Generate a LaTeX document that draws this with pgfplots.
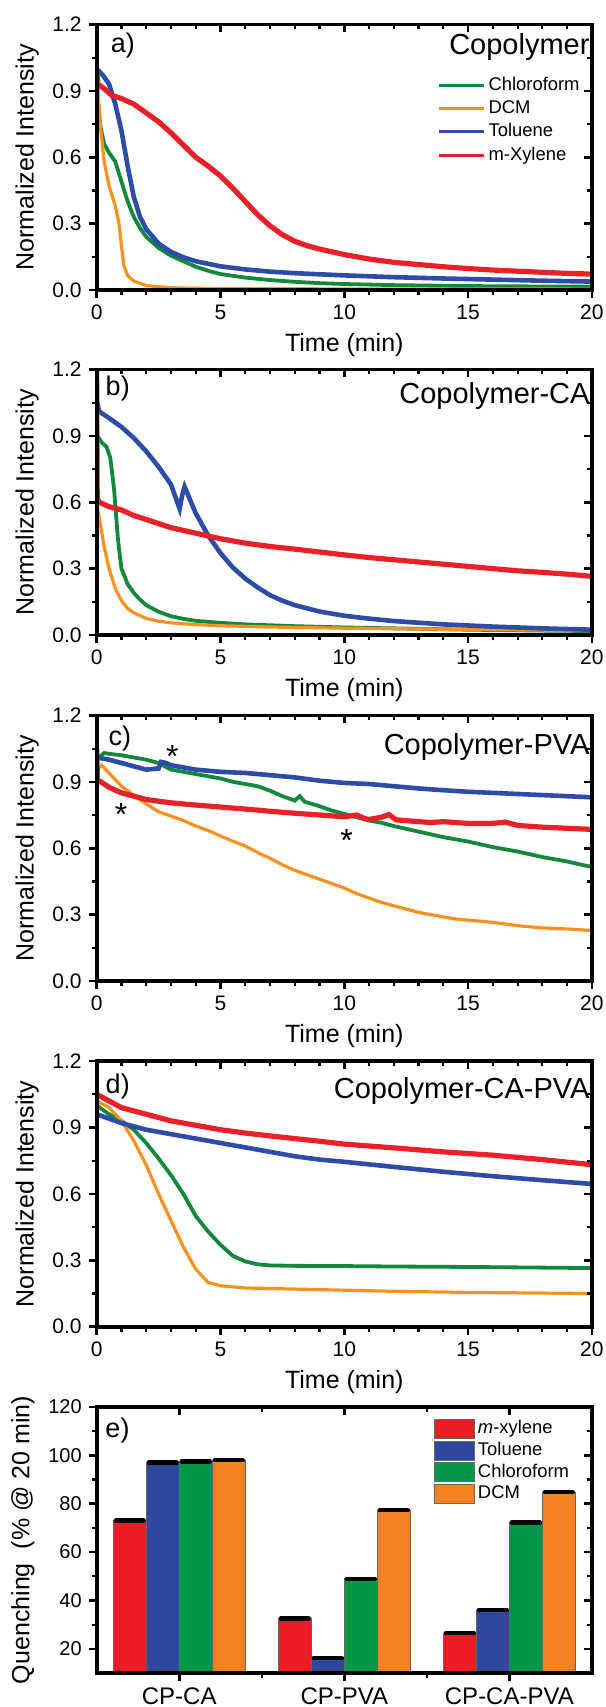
\documentclass[border=0pt]{standalone}
\usepackage{fontspec}
\setmainfont{Liberation Sans}
\usepackage{pgfplots}
\pgfplotsset{compat=1.18}
\definecolor{cg}{RGB}{18,136,60}
\definecolor{co}{RGB}{247,146,32}
\definecolor{cb}{RGB}{44,76,168}
\definecolor{cr}{RGB}{232,32,40}
\definecolor{bg}{RGB}{0,152,72}
\definecolor{bo}{RGB}{245,130,32}
\definecolor{bb}{RGB}{46,72,158}
\definecolor{br}{RGB}{237,28,36}
\tikzset{
  ttl/.style={anchor=east, inner sep=0pt, font=\fontsize{14.5}{17}\selectfont},
  plab/.style={inner sep=0pt, font=\fontsize{13.5}{16}\selectfont},
}
\pgfplotsset{
  common/.style={scale only axis, axis line style={line width=1.8pt},
    major tick length=4pt, minor tick length=2.5pt,
    every major tick/.append style={line width=1.3pt, black},
    every minor tick/.append style={line width=1.1pt, black},
    /pgf/number format/assume math mode=true},
  tframe/.style={common, width=247.6pt, height=132.8pt, xmin=0, xmax=20, ymin=0, ymax=1.2,
    xtick={0,5,10,15,20}, ytick={0,0.3,0.6,0.9,1.2}, minor x tick num=4, minor y tick num=1},
  tmain/.style={tframe, tick pos=left, tick align=outside,
    xlabel={Time (min)}, ylabel={Normalized Intensity},
    tick label style={font=\fontsize{10.5}{12}\selectfont},
    label style={font=\fontsize{12.5}{15}\selectfont},
    yticklabel style={/pgf/number format/.cd, fixed, fixed zerofill, precision=1}},
  tover/.style={tframe, tick pos=right, tick align=inside, xticklabels={}, yticklabels={}},
  lr/.style={cr, line width=2.6pt},
  lb/.style={cb, line width=2.3pt},
  lg/.style={cg, line width=1.9pt},
  lo/.style={co, line width=1.6pt},
  barleg/.style={legend image code/.code={\draw[##1, draw=black!60, line width=0.4pt] (0pt,-4.75pt) rectangle (20pt,4.75pt);}},
  eframe/.style={common, width=247.6pt, height=133pt, at={(48.35pt,-836.5pt)}, anchor=south west,
    xmin=-0.5, xmax=2.5, ymin=10, ymax=120, xtick={0,1,2}, minor xtick={0.5,1.5},
    ytick={20,40,60,80,100,120}, minor y tick num=1},
}
\begin{document}
\begin{tikzpicture}
\useasboundingbox (0,0) rectangle (302.5pt,-853.5pt);

% ---------------- (a)
\begin{axis}[tmain, at={(48.35pt,-145pt)}, anchor=south west,
  legend style={at={(rel axis cs:0.675,0.83)}, anchor=north west, draw=none, fill=none,
    font=\fontsize{9.2}{11}\selectfont, row sep=0.6pt, nodes={inner sep=1.5pt}},
  legend cell align=left,
  legend image code/.code={\draw[#1, line width=1.6pt] (0pt,0pt) -- (22.5pt,0pt);}]
\addplot[lg] coordinates {(0,0.98) (0.05,0.85) (0.15,0.74) (0.3,0.66) (0.5,0.62) (0.75,0.58) (1,0.49) (1.25,0.4) (1.5,0.33) (1.75,0.28) (2,0.24) (2.5,0.19) (3,0.155) (3.5,0.13) (4,0.105) (4.5,0.087) (5,0.072) (6,0.056) (7,0.045) (8,0.037) (9,0.031) (10,0.027) (12,0.022) (14,0.019) (16,0.017) (18,0.016) (20,0.015)};
\addlegendentry{Chloroform}
\addplot[lo] coordinates {(0,1.02) (0.05,0.9) (0.15,0.74) (0.3,0.58) (0.5,0.47) (0.75,0.38) (0.9,0.3) (1.0,0.2) (1.1,0.11) (1.25,0.065) (1.5,0.04) (2,0.02) (3,0.01) (5,0.006) (10,0.005) (20,0.004)};
\addlegendentry{DCM}
\addplot[lb] coordinates {(0,1.0) (0.25,0.97) (0.5,0.93) (0.75,0.84) (1.0,0.72) (1.25,0.56) (1.5,0.42) (1.75,0.33) (2,0.275) (2.5,0.21) (3,0.172) (3.5,0.148) (4,0.13) (5,0.107) (6,0.093) (7,0.083) (8,0.076) (10,0.066) (12,0.058) (14,0.052) (16,0.047) (18,0.042) (20,0.038)};
\addlegendentry{Toluene}
\addplot[lr] coordinates {(0,1.0) (0.05,0.93) (0.3,0.91) (0.6,0.88) (1,0.865) (1.5,0.84) (2,0.8) (2.5,0.76) (3,0.71) (3.5,0.655) (4,0.6) (4.5,0.56) (5,0.515) (5.5,0.46) (6,0.4) (6.5,0.34) (7,0.29) (7.5,0.25) (8,0.22) (8.5,0.2) (9,0.185) (10,0.16) (11,0.14) (12,0.125) (13,0.115) (14,0.105) (15,0.097) (16,0.09) (17,0.085) (18,0.08) (19,0.075) (20,0.072)};
\addlegendentry{m-Xylene}
\node[plab] at (rel axis cs:0.053,0.92) {a)};
\node[ttl] at (rel axis cs:0.996,0.915) {Copolymer};
\end{axis}
\begin{axis}[tover, at={(48.35pt,-145pt)}, anchor=south west]
\end{axis}

% ---------------- (b)
\begin{axis}[tmain, at={(48.35pt,-317.5pt)}, anchor=south west]
\addplot[lg] coordinates {(0,1.0) (0.03,0.9) (0.2,0.87) (0.4,0.85) (0.55,0.8) (0.7,0.66) (0.86,0.43) (1.0,0.3) (1.25,0.23) (1.5,0.19) (1.75,0.16) (2,0.135) (2.5,0.105) (3,0.085) (3.5,0.073) (4,0.064) (5,0.055) (6,0.048) (8,0.04) (10,0.034) (12,0.03) (15,0.024) (18,0.02) (20,0.018)};
\addplot[lo] coordinates {(0,0.65) (0.05,0.56) (0.15,0.5) (0.3,0.4) (0.5,0.3) (0.75,0.21) (1,0.155) (1.25,0.12) (1.5,0.1) (2,0.075) (2.5,0.062) (3,0.055) (4,0.047) (5,0.042) (7,0.036) (10,0.031) (15,0.025) (20,0.02)};
\addplot[lb] coordinates {(0,1.25) (0.02,1.05) (0.1,1.01) (0.5,0.98) (1,0.94) (1.5,0.89) (2,0.83) (2.5,0.76) (3,0.68) (3.35,0.57) (3.45,0.63) (3.55,0.67) (3.7,0.63) (4,0.55) (4.5,0.45) (5,0.37) (5.5,0.305) (6,0.255) (6.5,0.215) (7,0.18) (7.5,0.155) (8,0.135) (9,0.106) (10,0.087) (11,0.074) (12,0.063) (14,0.048) (16,0.038) (18,0.03) (20,0.024)};
\addplot[lr] coordinates {(0,1.02) (0.02,0.62) (0.1,0.6) (0.5,0.58) (1,0.565) (1.5,0.54) (2,0.522) (3,0.485) (4,0.46) (5,0.435) (6,0.415) (7,0.4) (8,0.388) (9,0.375) (10,0.362) (11,0.35) (12,0.34) (13,0.33) (14,0.32) (15,0.31) (16,0.3) (17,0.29) (18,0.283) (19,0.275) (20,0.265)};
\node[plab] at (rel axis cs:0.0425,0.927) {b)};
\node[ttl] at (rel axis cs:0.996,0.90) {Copolymer-CA};
\end{axis}
\begin{axis}[tover, at={(48.35pt,-317.5pt)}, anchor=south west]
\end{axis}

% ---------------- (c)
\begin{axis}[tmain, at={(48.35pt,-490.5pt)}, anchor=south west]
\addplot[lo] coordinates {(0,0.95) (0.2,0.975) (0.5,0.94) (1,0.88) (1.5,0.84) (2,0.80) (2.5,0.765) (3,0.745) (3.5,0.725) (4,0.70) (4.5,0.68) (5,0.655) (5.5,0.632) (6,0.61) (6.5,0.58) (7,0.555) (7.5,0.525) (8,0.5) (8.5,0.48) (9,0.46) (9.5,0.44) (10,0.42) (10.5,0.395) (11,0.375) (11.5,0.355) (12,0.34) (12.5,0.325) (13,0.31) (13.5,0.3) (14,0.29) (14.5,0.28) (15,0.275) (16,0.265) (17,0.25) (18,0.24) (19,0.235) (20,0.228)};
\addplot[lg] coordinates {(0,1.0) (0.3,1.03) (0.6,1.025) (1,1.02) (1.5,1.01) (2,1.0) (2.5,0.985) (3,0.955) (3.5,0.945) (4,0.935) (4.5,0.925) (5,0.915) (5.5,0.9) (6,0.89) (6.5,0.88) (7,0.86) (7.5,0.835) (8,0.815) (8.2,0.835) (8.4,0.81) (9,0.79) (9.5,0.77) (10,0.755) (10.5,0.74) (11,0.725) (11.5,0.715) (12,0.7) (13,0.675) (14,0.65) (15,0.63) (16,0.605) (17,0.585) (18,0.56) (19,0.54) (20,0.515)};
\addplot[lb] coordinates {(0,1.01) (0.5,1.0) (1,0.985) (1.5,0.97) (2,0.955) (2.5,0.96) (2.6,0.99) (2.8,0.985) (3,0.975) (3.5,0.965) (4,0.955) (5,0.945) (6,0.94) (7,0.93) (8,0.92) (9,0.905) (10,0.895) (11,0.89) (12,0.88) (13,0.87) (14,0.862) (15,0.855) (16,0.85) (17,0.845) (18,0.84) (19,0.835) (20,0.83)};
\addplot[lr] coordinates {(0,1.05) (0.03,0.91) (0.3,0.89) (0.5,0.875) (1,0.85) (1.5,0.835) (2,0.82) (3,0.805) (4,0.795) (5,0.786) (6,0.777) (7,0.767) (8,0.758) (9,0.75) (9.5,0.746) (10,0.742) (10.5,0.75) (10.8,0.735) (11,0.73) (11.5,0.74) (11.8,0.752) (12.1,0.728) (13,0.72) (13.5,0.716) (14,0.72) (15,0.712) (16,0.712) (16.5,0.718) (17,0.703) (18,0.695) (19,0.69) (20,0.685)};
\node[plab] at (rel axis cs:0.0467,0.913) {c)};
\node[ttl] at (rel axis cs:0.996,0.881) {Copolymer-PVA};
\node[font=\fontsize{16}{18}\selectfont, yshift=-3pt] at (axis cs:3.06,1.04) {*};
\node[font=\fontsize{16}{18}\selectfont, yshift=-3pt] at (axis cs:0.99,0.78) {*};
\node[font=\fontsize{16}{18}\selectfont, yshift=-3pt] at (axis cs:10.09,0.66) {*};
\end{axis}
\begin{axis}[tover, at={(48.35pt,-490.5pt)}, anchor=south west]
\end{axis}

% ---------------- (d)
\begin{axis}[tmain, at={(48.35pt,-663.35pt)}, anchor=south west]
\addplot[lg] coordinates {(0,1.0) (0.5,0.96) (1,0.93) (1.5,0.89) (2,0.83) (2.5,0.76) (3,0.685) (3.5,0.6) (4,0.5) (4.5,0.43) (5,0.37) (5.5,0.32) (6,0.295) (6.5,0.282) (7,0.277) (8,0.275) (10,0.274) (12,0.272) (15,0.27) (18,0.267) (20,0.265)};
\addplot[lo] coordinates {(0,1.02) (0.5,0.99) (1,0.93) (1.5,0.84) (2,0.73) (2.5,0.6) (3,0.48) (3.5,0.36) (4,0.26) (4.5,0.2) (5,0.185) (6,0.175) (8,0.17) (10,0.165) (12,0.16) (15,0.155) (18,0.152) (20,0.15)};
\addplot[lb] coordinates {(0,0.96) (1,0.92) (2,0.89) (3,0.87) (4,0.85) (5,0.83) (6,0.81) (7,0.79) (8,0.77) (9,0.755) (10,0.745) (12,0.722) (14,0.70) (16,0.68) (18,0.662) (20,0.645)};
\addplot[lr] coordinates {(0,1.05) (0.5,1.02) (1,0.99) (2,0.96) (3,0.93) (4,0.91) (5,0.89) (6,0.875) (7,0.862) (8,0.85) (9,0.838) (10,0.825) (12,0.808) (14,0.79) (16,0.775) (18,0.755) (20,0.732)};
\node[plab] at (rel axis cs:0.0425,0.906) {d)};
\node[ttl] at (rel axis cs:0.996,0.887) {Copolymer-CA-PVA};
\end{axis}
\begin{axis}[tover, at={(48.35pt,-663.35pt)}, anchor=south west]
\end{axis}

% ---------------- (e)
\begin{axis}[eframe,
  xticklabels={CP-CA,CP-PVA,CP-CA-PVA},
  tick pos=left, tick align=outside,
  x tick label style={font=\fontsize{12}{14}\selectfont},
  y tick label style={font=\fontsize{10}{12}\selectfont},
  ylabel={Quenching~~(\% @ 20 min)},
  label style={font=\fontsize{12.5}{15}\selectfont},
  legend style={at={(rel axis cs:0.669,0.977)}, anchor=north west, draw=none, fill=none,
    font=\fontsize{9.2}{11}\selectfont, row sep=0pt, nodes={inner sep=1.4pt}},
  legend cell align=left]
\addplot[ybar, bar width=0.2, bar shift=0pt, fill=br, draw=black!60, line width=0.4pt, barleg] coordinates {(-0.3,73) (0.7,32.5) (1.7,26.5)};
\addlegendentry{\textit{m}-xylene}
\addplot[ybar, bar width=0.2, bar shift=0pt, fill=bb, draw=black!60, line width=0.4pt, barleg] coordinates {(-0.1,97) (0.9,16.2) (1.9,36)};
\addlegendentry{Toluene}
\addplot[ybar, bar width=0.2, bar shift=0pt, fill=bg, draw=black!60, line width=0.4pt, barleg] coordinates {(0.1,97.5) (1.1,49) (2.1,72.2)};
\addlegendentry{Chloroform}
\addplot[ybar, bar width=0.2, bar shift=0pt, fill=bo, draw=black!60, line width=0.4pt, barleg] coordinates {(0.3,98) (1.3,77.3) (2.3,84.8)};
\addlegendentry{DCM}
\addplot[only marks, mark=-, mark size=7pt, mark options={line width=2.2pt, line cap=round, black}, forget plot] coordinates {(-0.3,73) (0.7,32.5) (1.7,26.5) (-0.1,97) (0.9,16.2) (1.9,36) (0.1,97.5) (1.1,49) (2.1,72.2) (0.3,98) (1.3,77.3) (2.3,84.8)};
\node[plab] at (rel axis cs:0.042,0.913) {e)};
\end{axis}
\begin{axis}[eframe, tick pos=right, tick align=inside, xticklabels={}, yticklabels={}]
\end{axis}
\end{tikzpicture}
\end{document}
